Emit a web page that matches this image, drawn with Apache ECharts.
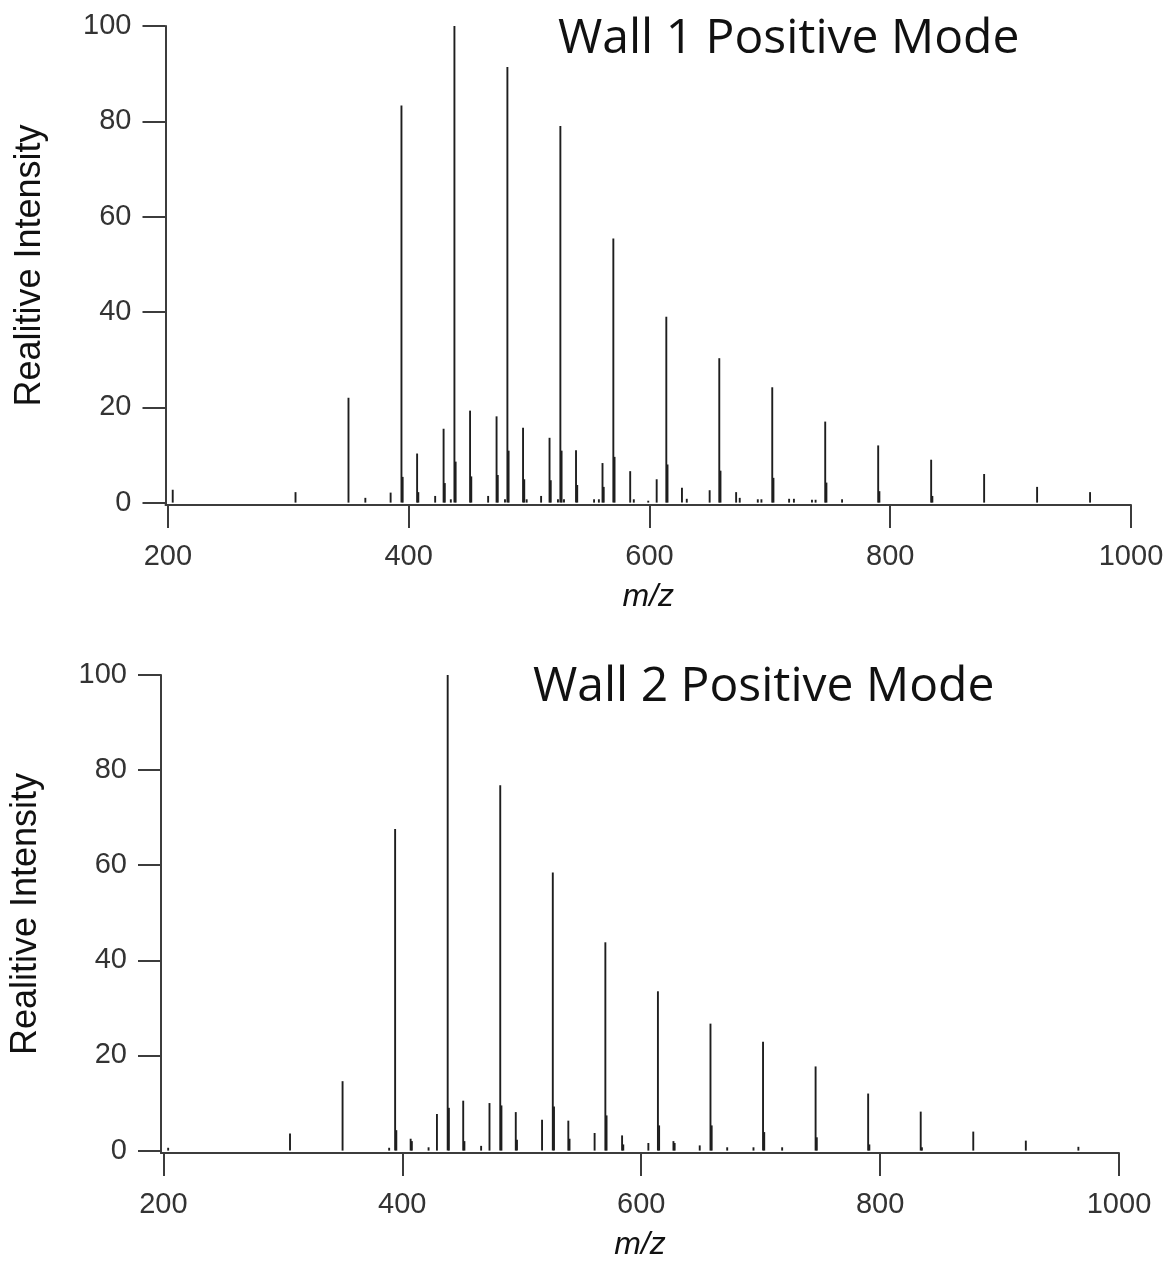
<!DOCTYPE html>
<html>
<head>
<meta charset="utf-8">
<script src="https://cdn.jsdelivr.net/npm/echarts@6/dist/echarts.min.js"></script>
<style>
  html, body { margin: 0; padding: 0; background: #fff; }
  #chart { width: 1168px; height: 1262px; }
</style>
</head>
<body>
<div id="chart"></div>
<script>
// ---- Data (m/z, relative intensity) ----
const titles = ["Wall 1 Positive Mode", "Wall 2 Positive Mode"];
const xTickValues = [200, 400, 600, 800, 1000];
const yTickValues = [0, 20, 40, 60, 80, 100];

const wall1Mz = [204, 306, 350, 364, 385, 394, 395, 407, 408, 422, 429, 430, 435, 438, 439, 451, 452, 466, 473, 474,
  480, 482, 483, 495, 496, 498, 510, 517, 518, 524, 526, 527, 529, 539, 540, 554, 558, 561, 562, 570, 571, 584, 587,
  599, 606, 614, 615, 627, 631, 650, 658, 659, 672, 675, 690, 693, 702, 703, 716, 720, 735, 738, 746, 747, 760,
  790, 791, 834, 835, 878, 922, 966];
const wall1Int = [2.7, 2.2, 22, 1.0, 2.1, 83.3, 5.4, 10.3, 2.2, 1.4, 15.5, 4.1, 0.7, 100, 8.6, 19.3, 5.5, 1.4, 18.1, 5.8,
  0.7, 91.4, 10.9, 15.7, 4.9, 0.7, 1.4, 13.6, 4.7, 0.7, 79, 10.9, 0.7, 11, 3.7, 0.7, 0.7, 8.3, 3.3, 55.4, 9.6, 6.6, 0.7,
  0.4, 4.9, 39, 8, 3.1, 0.8, 2.6, 30.3, 6.7, 2.2, 1.0, 0.7, 0.7, 24.2, 5.2, 0.8, 0.8, 0.6, 0.6, 17, 4.2, 0.7,
  12, 2.4, 9, 1.4, 6, 3.3, 2.2];

const wall2Mz = [204, 306, 350, 389, 394, 395, 407, 408, 422, 429, 438, 439, 451, 452, 466, 473, 482, 483, 495, 496,
  517, 526, 527, 539, 540, 561, 570, 571, 584, 585, 606, 614, 615, 627, 628, 649, 658, 659, 672, 694, 702, 703, 718,
  746, 747, 790, 791, 834, 835, 878, 922, 966];
const wall2Int = [0.6, 3.6, 14.6, 0.6, 67.6, 4.3, 2.5, 2.0, 0.7, 7.7, 100, 9.0, 10.5, 2.0, 1.0, 10.0, 76.8, 9.5, 8.1, 2.3,
  6.5, 58.5, 9.3, 6.3, 2.5, 3.7, 43.8, 7.4, 3.2, 1.3, 1.6, 33.5, 5.3, 2.0, 1.6, 1.1, 26.7, 5.3, 0.7, 0.7, 22.9, 3.9, 0.7,
  17.7, 2.8, 12, 1.3, 8.2, 0.7, 4, 2.1, 0.8];

function pairs(mz, inten) { return mz.map((m, i) => [m, inten[i]]); }

const axisColor = '#3c3c3c';
const labelFont = { fontFamily: 'Liberation Sans', fontSize: 29, color: '#333' };

function xAxisCfg(gridIndex) {
  return {
    type: 'value', gridIndex, min: 198, max: 1000,
    name: 'm/z', nameLocation: 'middle', nameGap: 76,
    nameTextStyle: { fontFamily: 'Liberation Sans', fontSize: 32, fontStyle: 'italic', color: '#111' },
    axisLine: { show: true, onZero: false, lineStyle: { color: axisColor, width: 2 } },
    axisTick: { show: true, inside: false, length: 23, customValues: xTickValues, lineStyle: { color: axisColor, width: 2 } },
    axisLabel: Object.assign({ margin: 37, customValues: xTickValues, formatter: function (v) { return String(v); } }, labelFont),
    splitLine: { show: false }
  };
}
function yAxisCfg(gridIndex) {
  return {
    type: 'value', gridIndex, min: -0.5, max: 100,
    name: 'Realitive Intensity', nameLocation: 'middle', nameGap: 117, nameRotate: 90,
    nameTextStyle: { fontFamily: 'Liberation Sans', fontSize: 36, color: '#111' },
    axisLine: { show: true, onZero: false, lineStyle: { color: axisColor, width: 2 } },
    axisTick: { show: true, inside: false, length: 23, customValues: yTickValues, lineStyle: { color: axisColor, width: 2 } },
    axisLabel: Object.assign({ margin: 34, customValues: yTickValues, formatter: function (v) { return String(v); } }, labelFont),
    splitLine: { show: false }
  };
}

function stickSeries(idx, data) {
  return {
    type: 'custom', xAxisIndex: idx, yAxisIndex: idx, data,
    renderItem: function (params, api) {
      const p0 = api.coord([api.value(0), 0]);
      const p1 = api.coord([api.value(0), api.value(1)]);
      return {
        type: 'line',
        shape: { x1: p0[0], y1: p0[1], x2: p1[0], y2: p1[1] },
        style: { stroke: '#1e1e1e', lineWidth: 1.9 }
      };
    },
    silent: true
  };
}

const chart = echarts.init(document.getElementById('chart'), null, { renderer: 'canvas' });
chart.setOption({
  animation: false,
  backgroundColor: '#fff',
  title: [
    { text: titles[0], left: 553, top: 10, textStyle: { fontFamily: 'Open Sans', fontSize: 48, fontWeight: 'normal', color: '#111' } },
    { text: titles[1], left: 528, top: 658, textStyle: { fontFamily: 'Open Sans', fontSize: 48, fontWeight: 'normal', color: '#111' } }
  ],
  grid: [
    { left: 165.5, top: 26, width: 965.5, height: 479, containLabel: false },
    { left: 152, top: 675, width: 967, height: 478, containLabel: false }
  ],
  xAxis: [xAxisCfg(0), xAxisCfg(1)],
  yAxis: [yAxisCfg(0), yAxisCfg(1)],
  series: [stickSeries(0, pairs(wall1Mz, wall1Int)), stickSeries(1, pairs(wall2Mz, wall2Int))]
});
</script>
</body>
</html>
